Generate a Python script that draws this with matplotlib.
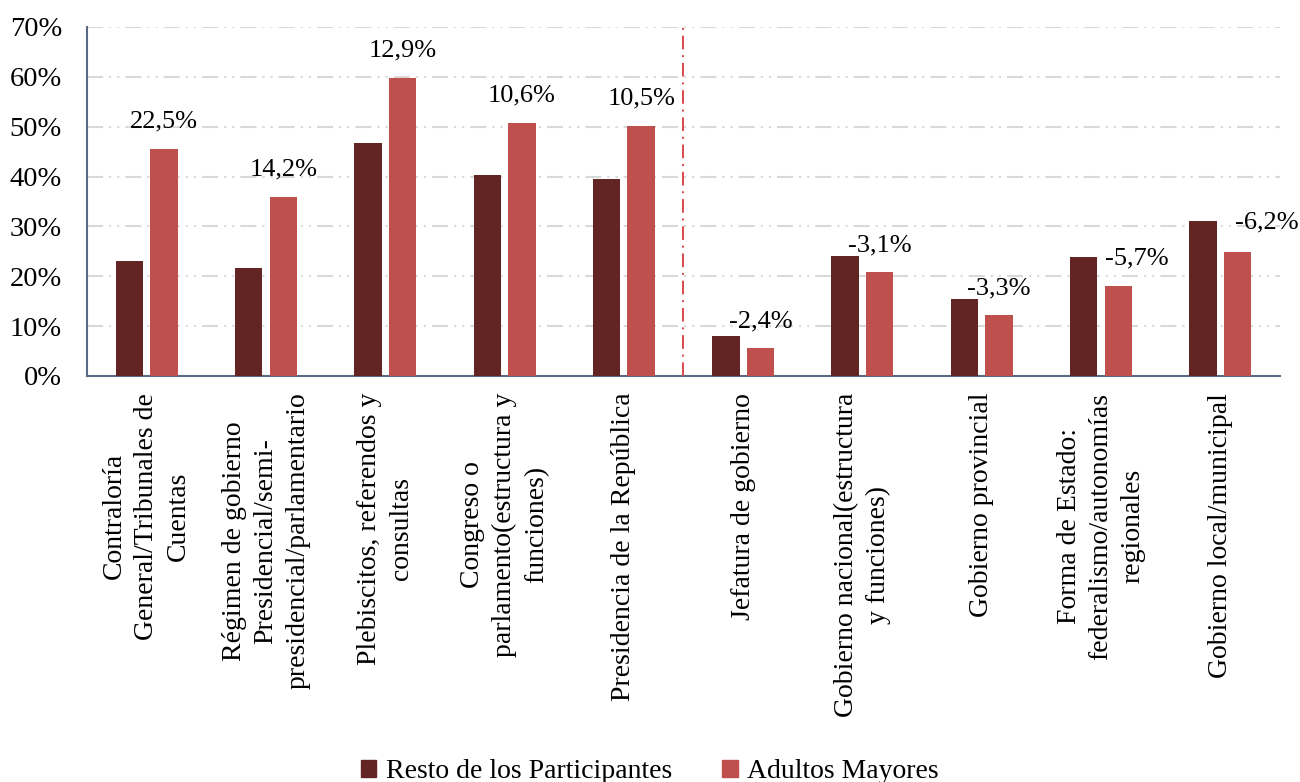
import matplotlib

matplotlib.use("Agg")
import matplotlib.pyplot as plt
import numpy as np
from matplotlib.patches import Patch
from matplotlib.ticker import FuncFormatter

# categories, as wrapped on the original chart
CATEGORIES = [
    "Contraloría\nGeneral/Tribunales de\nCuentas",
    "Régimen de gobierno\nPresidencial/semi-\npresidencial/parlamentario",
    "Plebiscitos, referendos y\nconsultas",
    "Congreso o\nparlamento(estructura y\nfunciones)",
    "Presidencia de la República",
    "Jefatura de gobierno",
    "Gobierno nacional(estructura\ny funciones)",
    "Gobierno provincial",
    "Forma de Estado:\nfederalismo/autonomías\nregionales",
    "Gobierno local/municipal",
]
RESTO = [23.1, 21.7, 46.8, 40.3, 39.5, 8.0, 24.0, 15.4, 23.8, 31.1]
ADULTOS = [45.6, 35.9, 59.7, 50.8, 50.1, 5.6, 20.8, 12.2, 18.0, 24.9]
DIFF_LABELS = ["22,5%", "14,2%", "12,9%", "10,6%", "10,5%",
               "-2,4%", "-3,1%", "-3,3%", "-5,7%", "-6,2%"]
SERIES_NAMES = ["Resto de los Participantes", "Adultos Mayores"]
Y_TICKS = [0, 10, 20, 30, 40, 50, 60, 70]

DARK = "#632523"
LIGHT = "#C0504D"
GRID = "#D9D9D9"
AXIS = "#5B6A84"
FONT = ["Liberation Serif", "DejaVu Serif"]

# label nudges in pixels (dx from the light bar, dy above the taller bar)
LABEL_DX = [0, 0, 0, 0, 0, 0, 0, 0, 18, 29]
LABEL_DY = [27.5, 27.5, 28, 27.5, 28, 15, 11, 11, -1, -2]

plt.rcParams["font.family"] = FONT
plt.rcParams["font.size"] = 18

fig = plt.figure(figsize=(13, 7.82), dpi=100)
ax = fig.add_axes([0.0669, 0.5192, 0.9177, 0.4463])

x = np.arange(len(CATEGORIES))
width = 0.23
off = 0.145
ax.bar(x - off, RESTO, width, color=DARK, zorder=3)
ax.bar(x + off, ADULTOS, width, color=LIGHT, zorder=3)

for i, text in enumerate(DIFF_LABELS):
    top = max(RESTO[i], ADULTOS[i])
    ax.annotate(text, (x[i] + off, top), xytext=(LABEL_DX[i], LABEL_DY[i]),
                textcoords="offset pixels", ha="center", va="center",
                fontsize=19, zorder=5)

ax.axvline(4.5, color="#D9484A", lw=1.4, ls=(0, (7, 3, 1, 3)), zorder=4)

ax.set_xlim(-0.5, len(CATEGORIES) - 0.5)
ax.set_ylim(0, 70)
ax.set_yticks(Y_TICKS)
ax.yaxis.set_major_formatter(FuncFormatter(lambda v, _: f"{v:.0f}%"))
ax.yaxis.grid(True, color=GRID, lw=1.5, ls=(0, (7.7, 2.9, 1, 2.9, 1, 2.9)),
              zorder=0)
ax.set_xticks(x)
ax.set_xticklabels(CATEGORIES, rotation=90, ha="center", va="top",
                   multialignment="center", fontsize=20, linespacing=1.36)
ax.tick_params(axis="both", length=0)
ax.tick_params(axis="x", pad=12)
ax.tick_params(axis="y", pad=18, labelsize=20.5)

for side in ("top", "right"):
    ax.spines[side].set_visible(False)
for side in ("left", "bottom"):
    ax.spines[side].set_color(AXIS)
    ax.spines[side].set_linewidth(1.5)

handles = [Patch(color=DARK), Patch(color=LIGHT)]
fig.legend(handles, SERIES_NAMES, loc="center", bbox_to_anchor=(0.5, 0.013),
           ncol=2, frameon=False, fontsize=20, handlelength=0.55,
           handleheight=0.55, handletextpad=0.35, columnspacing=1.8)

fig.savefig("out.png", dpi=100)
